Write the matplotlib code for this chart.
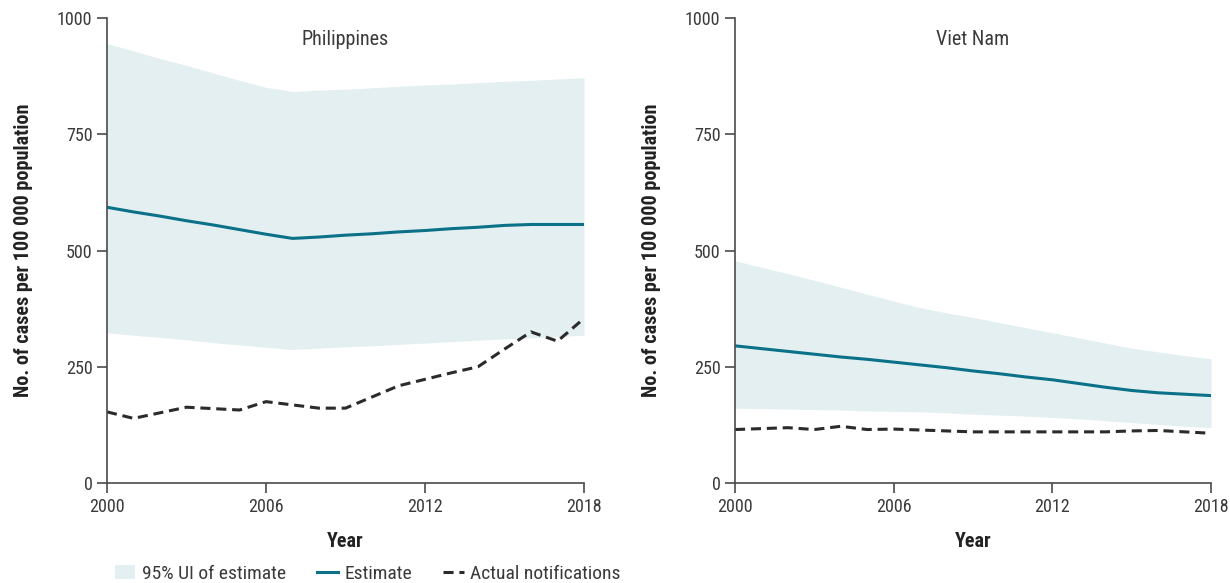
import numpy as np
import matplotlib
matplotlib.use('Agg')
import matplotlib.pyplot as plt
from matplotlib.patches import Patch
from matplotlib.lines import Line2D

plt.rcParams['font.family'] = ['Roboto Condensed', 'Lato', 'DejaVu Sans']

years = np.arange(2000, 2019)

# Philippines
phl_est = [593, 583, 574, 564, 555, 545, 535, 526, 529, 533, 536, 540, 543, 547,
           550, 554, 556, 556, 556]
phl_hi = [945, 929, 913, 898, 882, 866, 851, 842, 845, 847, 850, 853, 856, 858,
          861, 864, 866, 869, 872]
phl_lo = [323, 318, 313, 308, 302, 297, 292, 287, 290, 293, 295, 298, 301, 304,
          307, 310, 312, 315, 318]
phl_notif = [153, 139, 151, 163, 160, 157, 175, 168, 161, 161, 185, 209, 223, 237,
             250, 288, 325, 305, 354]

# Viet Nam
vnm_est = [295, 289, 283, 277, 271, 266, 260, 254, 248, 241, 235, 228, 222, 214,
           206, 199, 194, 191, 188]
vnm_hi = [478, 464, 450, 436, 421, 406, 391, 377, 366, 356, 345, 334, 323, 312,
          301, 290, 282, 274, 267]
vnm_lo = [161, 160, 159, 158, 157, 155, 154, 153, 151, 148, 146, 144, 141, 138,
          134, 130, 126, 122, 119]
vnm_notif = [115, 117, 119, 115, 122, 115, 116, 114, 112, 110, 110, 110, 110, 110,
             110, 112, 113, 110, 107]

countries = ['Philippines', 'Viet Nam']
FILL = '#e3eff1'
TEAL = '#0b7189'
DARK = '#2b2b2b'
AXC = '#4a4a4a'
DASH = (0, (3.3, 1.9))

fig = plt.figure(figsize=(12.3, 5.83), dpi=100)
ax1 = fig.add_axes([0.087, 0.1715, 0.3878, 0.7976])
ax2 = fig.add_axes([0.5976, 0.1715, 0.3870, 0.7976])

panels = [(ax1, phl_est, phl_hi, phl_lo, phl_notif),
          (ax2, vnm_est, vnm_hi, vnm_lo, vnm_notif)]

for (ax, est, hi, lo, notif), name in zip(panels, countries):
    ax.fill_between(years, lo, hi, color=FILL, linewidth=0)
    ax.plot(years, est, color=TEAL, linewidth=2.2)
    ax.plot(years, notif, color=DARK, linewidth=2.2, linestyle=DASH)
    ax.set_xlim(2000, 2018)
    ax.set_ylim(0, 1000)
    ax.set_xticks([2000, 2006, 2012, 2018])
    ax.set_yticks([0, 250, 500, 750, 1000])
    for s in ['top', 'right']:
        ax.spines[s].set_visible(False)
    for s in ['left', 'bottom']:
        ax.spines[s].set_color(AXC)
        ax.spines[s].set_linewidth(1.2)
    ax.tick_params(direction='out', length=7, width=1.2, color=AXC,
                   labelsize=13, labelcolor='#3a3a3a')
    ax.text(0.5, 0.975, name, transform=ax.transAxes, ha='center', va='top',
            fontsize=14.5, color='#3a3a3a')
    ax.set_xlabel('Year', fontsize=14.5, fontweight='bold', color='#222', labelpad=12)
    ax.set_ylabel('No. of cases per 100 000 population', fontsize=14.5,
                  fontweight='bold', color='#222', labelpad=17)

handles = [Patch(facecolor=FILL, edgecolor='none'),
           Line2D([], [], color=TEAL, linewidth=2.2),
           Line2D([], [], color=DARK, linewidth=2.2, linestyle=DASH)]
labels = ['95% UI of estimate', 'Estimate', 'Actual notifications']
fig.legend(handles, labels, loc='lower left', bbox_to_anchor=(0.079, -0.03),
           ncol=3, frameon=False, fontsize=14, handlelength=1.05,
           handletextpad=0.35, columnspacing=1.6, labelcolor='#3a3a3a')

fig.savefig('out.png', dpi=100, facecolor='white')
plt.close()
